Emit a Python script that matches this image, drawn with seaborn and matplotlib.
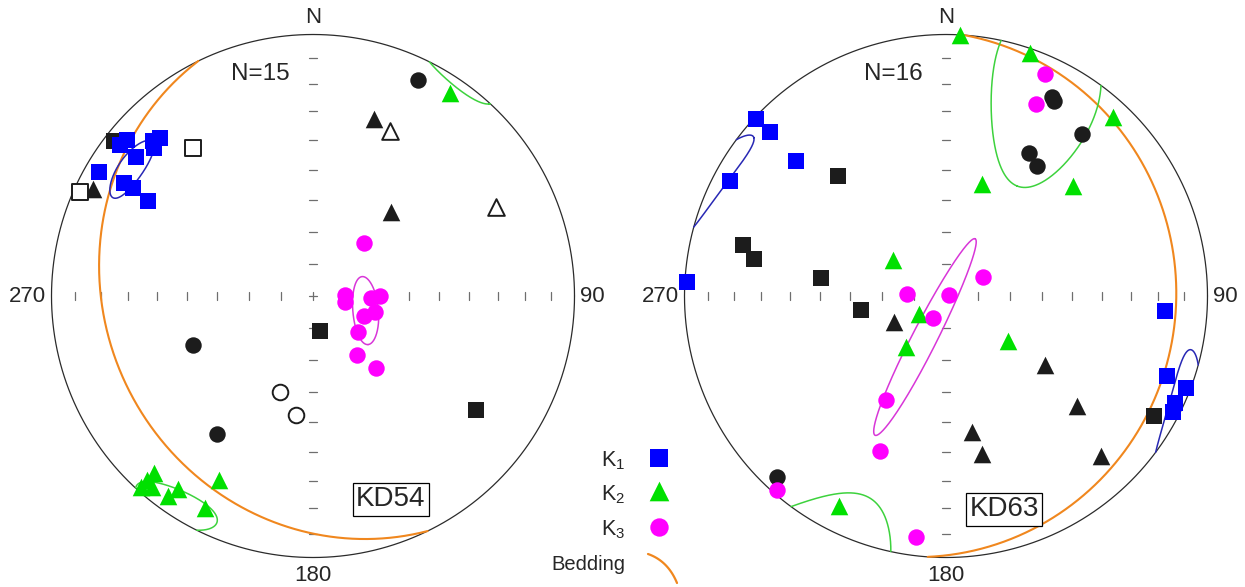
import numpy as np
import pandas as pd
import matplotlib
matplotlib.use("Agg")
import matplotlib.pyplot as plt
import seaborn as sns

# ---------------------------------------------------------------
# AMS principal axes, lower hemisphere (trend, plunge in degrees)
# ---------------------------------------------------------------
# Site KD54
kd54_k1_trend = [310, 308, 308, 314, 316, 313, 300, 301, 301, 300]
kd54_k1_plunge = [8, 7, 15, 16, 17, 18, 6, 17, 21, 28]
kd54_k2_trend = [222, 222, 222, 220, 216, 215, 207, 207, 34]
kd54_k2_plunge = [10, 2, 6, 5, 6, 11, 10, 22, 7]
kd54_k3_trend = [44, 88, 100, 92, 90, 104, 112, 129, 143, 139]
kd54_k3_plunge = [67, 80, 80, 72, 69, 70, 73, 72, 67, 60]
# other specimens: filled black and open symbols (square K1, triangle K2, circle K3)
kd54_blk_k1_trend = [308, 169, 125]
kd54_blk_k1_plunge = [4, 79, 25]
kd54_blk_k2_trend = [19, 43, 296]
kd54_blk_k2_plunge = [29, 54, 7]
kd54_blk_k3_trend = [26, 248, 215]
kd54_blk_k3_plunge = [9, 49, 36]
kd54_open_k1_trend = [321, 294]
kd54_open_k1_plunge = [28, 3]
kd54_open_k2_trend = [25, 64]
kd54_open_k2_plunge = [31, 23]
kd54_open_k3_trend = [199, 188]
kd54_open_k3_plunge = [58, 52]
kd54_bedding = [244, 22]  # dip direction, dip
# confidence cones: mean trend, mean plunge, semi-angle major, semi-angle minor, axis rotation
kd54_cone_k1 = [305, 16, 8.5, 4.7, 0]
kd54_cone_k2 = [213, 4, 10.5, 7, -25]
kd54_cone_k3 = [105.5, 73, 10.5, 4, -21]

# Site KD63
kd63_k1_trend = [313, 313, 312, 298, 273, 94, 110, 111, 115, 117]
kd63_k1_plunge = [1, 9, 24, 7, 1, 17, 11, 2, 4, 3]
kd63_k2_trend = [3, 19, 43, 49, 304, 236, 218, 126, 207, 18]
kd63_k2_plunge = [0, 2, 7, 36, 70, 80, 70, 66, 11, 53]
kd63_k3_trend = [24, 25, 273, 73, 63, 210, 210, 203, 221, 187]
kd63_k3_plunge = [8, 20, 78, 89, 77, 82, 52, 36, 2, 8]
kd63_blk_k1_trend = [318, 284, 281, 278, 261, 120]
kd63_blk_k1_plunge = [38, 21, 26, 50, 63, 9]
kd63_blk_k2_trend = [243, 125, 130, 169, 167, 136]
kd63_blk_k2_plunge = [72, 52, 35, 46, 38, 16]
kd63_blk_k3_trend = [28, 29, 40, 30, 35, 223]
kd63_blk_k3_plunge = [15, 16, 20, 37, 39, 6]
kd63_bedding = [94, 13]
kd63_cone_k1 = [116, 0, 14.5, 5.5, -22]
kd63_cone_k2 = [26, 15, 34, 13.5, 82]
kd63_cone_k3 = [207, 75, 35, 3.8, 90]

sites = ["KD54", "KD63"]
site_counts = ["N=15", "N=16"]

# ---------------------------------------------------------------
sns.set_theme(style="white")
plt.rcParams["font.family"] = ["Liberation Sans", "DejaVu Sans"]
plt.rcParams["mathtext.fontset"] = "custom"
plt.rcParams["mathtext.rm"] = "Liberation Sans"
plt.rcParams["mathtext.it"] = "Liberation Sans:italic"
plt.rcParams["mathtext.bf"] = "Liberation Sans:bold"

C_K1, C_K2, C_K3 = "#0000ff", "#00e000", "#ff00ff"
C_BED = "#f0871e"
C_BLK = "#1c1c1c"


def direction(trend, plunge):
    t = np.radians(np.asarray(trend, float))
    p = np.radians(np.asarray(plunge, float))
    return np.array([np.cos(p) * np.sin(t), np.cos(p) * np.cos(t), np.sin(p)])


def schmidt(v):
    """Equal-area (Schmidt) lower-hemisphere projection of unit vectors."""
    v = np.array(v, float)
    flip = v[2] < 0
    v[:, flip] *= -1
    f = 1.0 / np.sqrt(1.0 + v[2])
    return v[0] * f, v[1] * f, flip


def cone_path(trend, plunge, major, minor, rot, n=3000):
    m = direction(trend, plunge)
    a = direction(trend, plunge + 90)
    b = direction(trend + 90, 0)
    r = np.radians(rot)
    u = np.cos(r) * b + np.sin(r) * a
    w = -np.sin(r) * b + np.cos(r) * a
    t = np.linspace(0, 2 * np.pi, n)
    v = (m[:, None] + np.tan(np.radians(major)) * np.cos(t) * u[:, None]
         + np.tan(np.radians(minor)) * np.sin(t) * w[:, None])
    v /= np.linalg.norm(v, axis=0)
    x, y, flip = schmidt(v)
    cut = np.where(flip[1:] != flip[:-1])[0] + 1
    return np.insert(x, cut, np.nan), np.insert(y, cut, np.nan)


def great_circle(dipdir, dip, n=600):
    s = direction(dipdir - 90, 0)
    d = direction(dipdir, dip)
    t = np.linspace(0, np.pi, n)
    v = np.cos(t) * s[:, None] + np.sin(t) * d[:, None]
    x, y, _ = schmidt(v)
    return x, y


def to_frame(trend, plunge):
    x, y, _ = schmidt(direction(trend, plunge))
    return pd.DataFrame({"x": np.atleast_1d(x), "y": np.atleast_1d(y)})


def draw_net(ax, site, count):
    th = np.linspace(0, 2 * np.pi, 721)
    ax.plot(np.cos(th), np.sin(th), color="#2b2b2b", lw=0.9, zorder=1)
    rings = np.sqrt(1 - np.sin(np.radians(np.arange(10, 90, 10))))
    h = 0.016
    for r in rings:
        for s in (-1, 1):
            ax.plot([-h, h], [s * r, s * r], color="#6e6e6e", lw=0.9, zorder=1)
            ax.plot([s * r, s * r], [-h, h], color="#6e6e6e", lw=0.9, zorder=1)
    ax.plot([-h, h], [0, 0], color="#6e6e6e", lw=0.9, zorder=1)
    ax.plot([0, 0], [-h, h], color="#6e6e6e", lw=0.9, zorder=1)
    fs = 16
    ax.text(0, 1.066, "N", ha="center", va="center", fontsize=fs)
    ax.text(0, -1.068, "180", ha="center", va="center", fontsize=fs)
    ax.text(-1.02, 0, "270", ha="right", va="center", fontsize=fs)
    ax.text(1.02, 0, "90", ha="left", va="center", fontsize=fs)
    ax.text(-0.2, 0.85, count, ha="center", va="center", fontsize=17.5)


W, H = 1245, 587
fig = plt.figure(figsize=(W / 100, H / 100), dpi=100)
R = 261.5
centers = [(313, 296), (946, 296)]
label_pos = [(0.297, -0.778), (0.222, -0.816)]

panel_data = {
    "KD54": dict(
        k1=(kd54_k1_trend, kd54_k1_plunge), k2=(kd54_k2_trend, kd54_k2_plunge),
        k3=(kd54_k3_trend, kd54_k3_plunge),
        b1=(kd54_blk_k1_trend, kd54_blk_k1_plunge), b2=(kd54_blk_k2_trend, kd54_blk_k2_plunge),
        b3=(kd54_blk_k3_trend, kd54_blk_k3_plunge),
        o1=(kd54_open_k1_trend, kd54_open_k1_plunge), o2=(kd54_open_k2_trend, kd54_open_k2_plunge),
        o3=(kd54_open_k3_trend, kd54_open_k3_plunge),
        bed=kd54_bedding, cones=(kd54_cone_k1, kd54_cone_k2, kd54_cone_k3)),
    "KD63": dict(
        k1=(kd63_k1_trend, kd63_k1_plunge), k2=(kd63_k2_trend, kd63_k2_plunge),
        k3=(kd63_k3_trend, kd63_k3_plunge),
        b1=(kd63_blk_k1_trend, kd63_blk_k1_plunge), b2=(kd63_blk_k2_trend, kd63_blk_k2_plunge),
        b3=(kd63_blk_k3_trend, kd63_blk_k3_plunge),
        o1=None, o2=None, o3=None,
        bed=kd63_bedding, cones=(kd63_cone_k1, kd63_cone_k2, kd63_cone_k3)),
}

markers = {"1": "s", "2": "^", "3": "o"}
sizes = {"1": 135, "2": 160, "3": 140}
kcolors = {"1": C_K1, "2": C_K2, "3": C_K3}
cone_colors = ["#2828b4", "#3dd23d", "#d836d8"]

for i, site in enumerate(sites):
    cx, cy = centers[i]
    ax = fig.add_axes([(cx - 1.2 * R) / W, (H - cy - 1.2 * R) / H, 2.4 * R / W, 2.4 * R / H])
    ax.set_xlim(-1.2, 1.2)
    ax.set_ylim(-1.2, 1.2)
    ax.axis("off")
    draw_net(ax, site, site_counts[i])
    d = panel_data[site]

    bx, by = great_circle(*d["bed"])
    ax.plot(bx, by, color=C_BED, lw=1.5, zorder=2)
    for cone, col in zip(d["cones"], cone_colors):
        ex, ey = cone_path(*cone)
        ax.plot(ex, ey, color=col, lw=1.1, zorder=2)

    for k in "123":
        df = to_frame(*d["b" + k])
        sns.scatterplot(data=df, x="x", y="y", marker=markers[k], s=sizes[k],
                        color=C_BLK, edgecolor=C_BLK, linewidth=0, ax=ax, zorder=3, legend=False)
    for k in "123":
        if d["o" + k] is None:
            continue
        df = to_frame(*d["o" + k])
        sns.scatterplot(data=df, x="x", y="y", marker=markers[k], s=sizes[k] * 0.9,
                        color="white", edgecolor=C_BLK, linewidth=1.4, ax=ax, zorder=4, legend=False)
    for k in "123":
        df = to_frame(*d["k" + k])
        sns.scatterplot(data=df, x="x", y="y", marker=markers[k], s=sizes[k],
                        color=kcolors[k], edgecolor=kcolors[k], linewidth=0, ax=ax, zorder=5 + int(k),
                        legend=False)

    lx, ly = label_pos[i]
    ax.text(lx, ly, site, ha="center", va="center", fontsize=20, zorder=10,
            bbox=dict(boxstyle="square,pad=0.12", fc="white", ec="black", lw=0.9))
    ax.set_xlabel("")
    ax.set_ylabel("")

# legend between the two nets
lg = fig.add_axes([0, 0, 1, 1])
lg.set_xlim(0, W)
lg.set_ylim(H, 0)
lg.axis("off")
leg_labels = [r"K$_{\mathrm{1}}$", r"K$_{\mathrm{2}}$", r"K$_{\mathrm{3}}$", "Bedding"]
leg_baseline = [466, 500.5, 535, 570]
leg_mark_y = [458, 491, 527]
for j, lab in enumerate(leg_labels):
    lg.text(625, leg_baseline[j], lab, ha="right", va="baseline", fontsize=15.5 if j < 3 else 14.5)
for j, k in enumerate("123"):
    lg.scatter([659], [leg_mark_y[j]], marker=markers[k], s=sizes[k] * 1.25, color=kcolors[k], linewidth=0)
tt = np.linspace(0, 1, 30)
p0, p1, p2 = np.array([648, 554]), np.array([668, 561]), np.array([677, 583])
curve = ((1 - tt)[:, None] ** 2) * p0 + (2 * (1 - tt) * tt)[:, None] * p1 + (tt[:, None] ** 2) * p2
lg.plot(curve[:, 0], curve[:, 1], color=C_BED, lw=1.6)

fig.savefig("out.png", dpi=100)
